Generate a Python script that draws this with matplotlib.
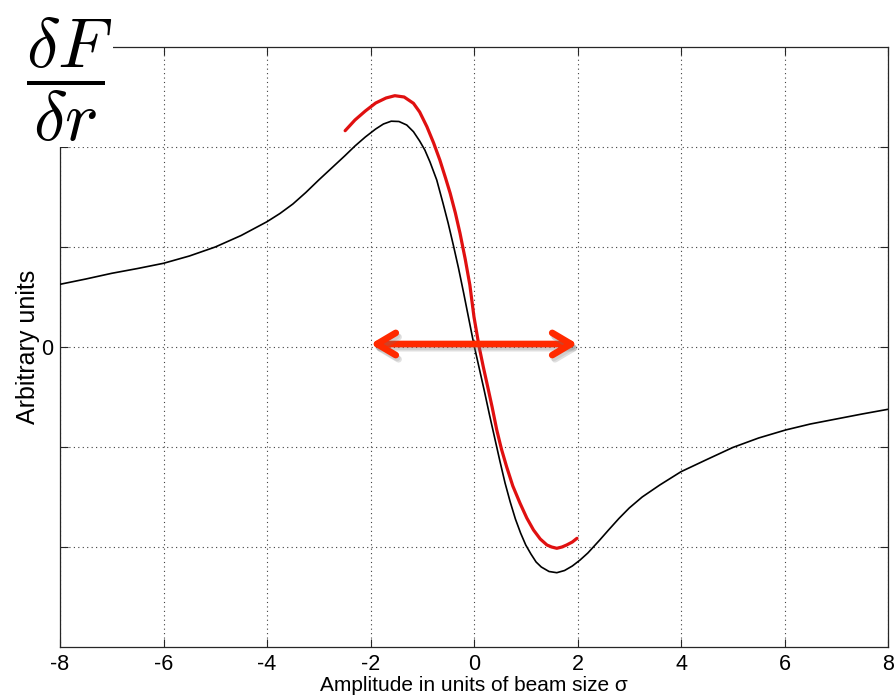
import matplotlib
matplotlib.use("Agg")
import matplotlib.pyplot as plt
from matplotlib.patches import Rectangle
import matplotlib.patheffects as pe

# Beam-beam kick profile (black)
kick_x = [-8.0, -7.5, -7.0, -6.5, -6.0, -5.5, -5.0, -4.5, -4.0, -3.75, -3.5, -3.25,
          -3.0, -2.75, -2.5, -2.3, -2.1, -1.9, -1.75, -1.6, -1.45, -1.3, -1.17, -1.05,
          -0.95, -0.85, -0.72, -0.6, -0.5, -0.4, -0.3, -0.2, -0.1, 0.0,
          0.1, 0.2, 0.3, 0.4, 0.5, 0.6, 0.7, 0.8, 0.9, 1.0, 1.1, 1.2, 1.3,
          1.45, 1.6, 1.75, 1.9, 2.05, 2.2, 2.43, 2.6, 2.8, 3.0, 3.25, 3.59, 4.0,
          4.5, 5.0, 5.5, 6.02, 6.5, 7.0, 7.5, 8.0]
kick_y = [0.627, 0.68, 0.737, 0.785, 0.837, 0.91, 1.0, 1.115, 1.253, 1.335, 1.43, 1.545,
          1.67, 1.79, 1.91, 2.01, 2.10, 2.18, 2.23, 2.258, 2.255, 2.22, 2.153, 2.06,
          1.97, 1.85, 1.67, 1.44, 1.24, 1.02, 0.79, 0.54, 0.28, 0.02,
          -0.21, -0.44, -0.68, -0.91, -1.14, -1.36, -1.55, -1.72, -1.86, -1.98, -2.07, -2.15, -2.2,
          -2.245, -2.257, -2.235, -2.19, -2.13, -2.06, -1.93, -1.83, -1.715, -1.61, -1.5, -1.38, -1.247,
          -1.125, -1.005, -0.91, -0.83, -0.77, -0.72, -0.67, -0.623]

# Shifted kick profile (red)
shift_x = [-2.49, -2.3, -2.1, -1.9, -1.7, -1.53, -1.35, -1.17, -1.05, -0.91, -0.78,
           -0.66, -0.55, -0.46, -0.36, -0.27, -0.17, -0.08, 0.0, 0.1, 0.18, 0.25,
           0.35, 0.44, 0.53, 0.63, 0.75, 0.89, 1.02, 1.15, 1.28, 1.41, 1.5, 1.6,
           1.7, 1.79, 1.9, 1.99]
shift_y = [2.163, 2.27, 2.36, 2.44, 2.49, 2.513, 2.50, 2.437, 2.35, 2.203, 2.04,
           1.87, 1.69, 1.537, 1.34, 1.137, 0.88, 0.62, 0.3, 0.0, -0.2, -0.363,
           -0.6, -0.83, -1.02, -1.197, -1.39, -1.563, -1.71, -1.83, -1.92, -1.98, -2.0, -2.013,
           -2.0, -1.98, -1.95, -1.913]

# Amplitude range spanned by the arrow
span = [-2.0, 2.0]

x_ticks = [-8, -6, -4, -2, 0, 2, 4, 6, 8]
x_tick_labels = ["-8", "-6", "-4", "-2", "0", "2", "4", "6", "8"]
y_ticks = [-2, -1, 0, 1, 2]
y_tick_labels = ["", "", "0", "", ""]

sans = ["Liberation Sans", "DejaVu Sans"]
plt.rcParams["mathtext.fontset"] = "cm"

fig = plt.figure(figsize=(8.94, 7.0), dpi=100)
ax = fig.add_axes([60 / 894, 53 / 700, 828 / 894, 600 / 700])

ax.plot(kick_x, kick_y, color="black", lw=1.2, zorder=3, solid_joinstyle="round")
ax.plot(shift_x, shift_y, color="#E01010", lw=2.3, zorder=4, solid_joinstyle="round",
        solid_capstyle="round")

ann = ax.annotate("", xy=(span[0], 0.03), xytext=(span[1], 0.03),
                  arrowprops=dict(arrowstyle="<->,head_length=1.35,head_width=0.8",
                                  color="#FF2A00", lw=4.8, shrinkA=0, shrinkB=0,
                                  mutation_scale=10, joinstyle="round",
                                  capstyle="round"), zorder=5)
ann.arrow_patch.set_path_effects([
    pe.SimpleLineShadow(offset=(2, -3), shadow_color="0.45", alpha=0.22),
    pe.SimpleLineShadow(offset=(1, -2), shadow_color="0.45", alpha=0.15),
    pe.Normal()])

ax.set_xlim(-8, 8)
ax.set_ylim(-3, 3)
ax.set_xticks(x_ticks)
ax.set_xticklabels(x_tick_labels, family=sans, fontsize=15.5)
ax.set_yticks(y_ticks)
ax.set_yticklabels(y_tick_labels, family=sans, fontsize=15.5)
ax.tick_params(direction="in", length=5.5, width=0.8, top=True, right=True,
               color="0.15", pad=5)
ax.grid(True, linestyle=(0, (1, 3)), color="0.25", lw=0.8)
for s in ax.spines.values():
    s.set_color("0.15")
    s.set_linewidth(0.9)

ax.set_xlabel("Amplitude in units of beam size \u03c3", family=sans, fontsize=15,
              labelpad=1)
ax.set_ylabel("Arbitrary units", family=sans, fontsize=18, labelpad=1)

# Formula badge in the top-left corner
fig.add_artist(Rectangle((0, 1 - 147 / 700), 113 / 894, 147 / 700,
                         transform=fig.transFigure, facecolor="white",
                         edgecolor="none", zorder=5))
fig.text(69 / 894, 1 - 80 / 700, r"$\dfrac{\delta F}{\delta r}$", fontsize=51,
         ha="center", va="center", zorder=6)

fig.savefig("out.png", dpi=100, facecolor="white")
